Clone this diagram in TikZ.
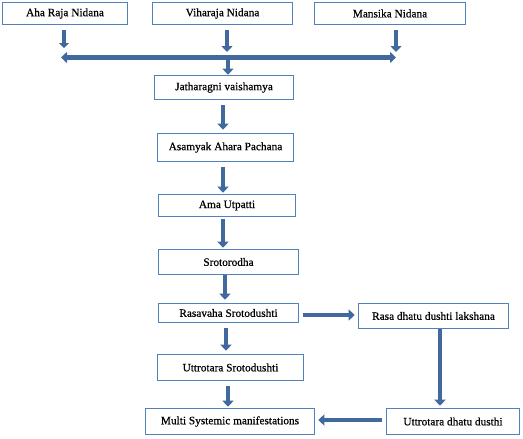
\documentclass[tikz,border=0pt]{standalone}
\usepackage{fontspec}
\setmainfont{Liberation Serif}[FakeBold=0.6]
\usetikzlibrary{arrows.meta}
\definecolor{boxblue}{HTML}{4F81BD}
\definecolor{arrblue}{HTML}{41699E}
\tikzset{
  box/.style={draw=boxblue, line width=1.6pt, fill=white, inner sep=0pt, font=\fontsize{11.3}{13}\selectfont},
  arr/.style={draw=arrblue, line width=4.5pt, -{Triangle[length=6pt,width=11pt]}},
  darr/.style={draw=arrblue, line width=4.5pt, {Triangle[length=6pt,width=11pt]}-{Triangle[length=6pt,width=11pt]}}
}
\begin{document}
\begin{tikzpicture}[x=1pt,y=-1pt]
\useasboundingbox (0,0) rectangle (523,439);
\node[box, minimum width=125pt, minimum height=22pt] (aha) at (65,13.5) {Aha Raja Nidana};
\node[box, minimum width=140pt, minimum height=22pt] (vih) at (222.5,13.5) {Viharaja Nidana};
\node[box, minimum width=151pt, minimum height=22pt] (man) at (390,13.5) {Mansika Nidana};
\node[box, minimum width=139pt, minimum height=24pt] (jat) at (224,87.5) {Jatharagni vaishamya};
\node[box, minimum width=136pt, minimum height=28pt] (asa) at (225.5,147.5) {Asamyak Ahara Pachana};
\node[box, minimum width=137pt, minimum height=22pt] (ama) at (227,205.5) {Ama Utpatti};
\node[box, minimum width=140pt, minimum height=25pt] (sro) at (228.5,262) {Srotorodha};
\node[box, minimum width=140pt, minimum height=19pt] (ras) at (228.5,313) {Rasavaha Srotodushti};
\node[box, minimum width=150pt, minimum height=25pt] (rdl) at (433.5,316) {Rasa dhatu dushti lakshana};
\node[box, minimum width=146pt, minimum height=26pt] (utt) at (230.5,367.5) {Uttrotara Srotodushti};
\node[box, minimum width=169pt, minimum height=26pt] (mul) at (230,421.5) {Multi Systemic manifestations};
\node[box, minimum width=133pt, minimum height=26pt] (udd) at (453,421.5) {Uttrotara dhatu dusthi};
\coordinate (hl) at (61,57.5);
\coordinate (hr) at (396,57.5);
\coordinate (hm) at (228,57.5);
\draw[arr, -{Triangle[length=5pt,width=10pt]}] ([xshift=-1pt,yshift=-5pt]aha.south) -- ([xshift=-1pt]aha.south |- 0,48);
\draw[arr] ([xshift=4.5pt,yshift=-5pt]vih.south) -- ([xshift=4.5pt]vih.south |- 0,52);
\draw[arr] ([xshift=6pt,yshift=-5pt]man.south) -- ([xshift=6pt]man.south |- 0,52);
\draw[darr] (hl) -- (hr);
\draw[arr] (hm) -- (jat.north -| hm);
\draw[arr] ([xshift=-1pt,yshift=-5pt]jat.south) -- ([xshift=-2.5pt,yshift=3pt]asa.north);
\draw[arr] ([xshift=-2.5pt,yshift=-5pt]asa.south) -- ([xshift=-4pt,yshift=1pt]ama.north);
\draw[arr] ([xshift=-4pt,yshift=-2pt]ama.south) -- ([xshift=-5.5pt,yshift=1pt]sro.north);
\draw[arr] ([xshift=-3.5pt]sro.south) -- ([xshift=-3.5pt,yshift=3pt]ras.north);
\draw[arr] ([xshift=-2.5pt,yshift=-5pt]ras.south) -- ([xshift=-4.5pt,yshift=3pt]utt.north);
\draw[arr] ([xshift=-2.5pt,yshift=-5pt]utt.south) -- ([xshift=-2pt,yshift=1pt]mul.north);
\draw[arr] ([xshift=4pt,yshift=-2pt]ras.east) -- ([xshift=-3pt,yshift=-2pt]rdl.west |- ras.east);
\draw[arr] ([xshift=6.5pt]rdl.south) -- ([xshift=-13pt,yshift=2pt]udd.north);
\draw[arr] ([xshift=-4pt,yshift=1.5pt]udd.west) -- ([xshift=3pt,yshift=1.5pt]mul.east);
\end{tikzpicture}
\end{document}
